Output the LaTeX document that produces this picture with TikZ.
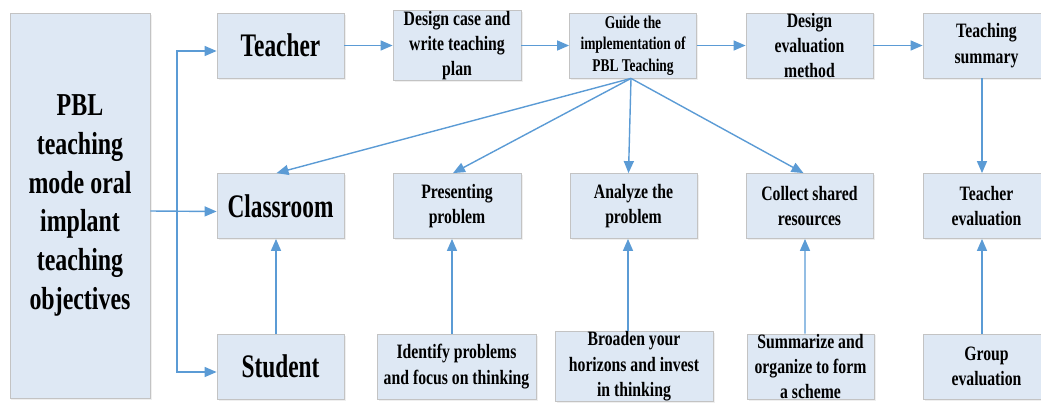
\documentclass[tikz,border=0pt]{standalone}
\usepackage{fontspec}
\setmainfont{Liberation Serif}[FakeStretch=0.77]
\newfontfamily\fleft{Liberation Serif}[FakeStretch=0.75]
\newfontfamily\fbig{Liberation Serif}[FakeStretch=0.71]
\usetikzlibrary{arrows.meta,shadows}
\definecolor{boxfill}{HTML}{DEE8F4}
\definecolor{boxdraw}{HTML}{C3C3C3}
\definecolor{arr}{HTML}{5B9BD5}
\tikzset{
 box/.style={draw=boxdraw, line width=0.8bp, fill=boxfill, align=center, inner sep=0pt,
   drop shadow={shadow xshift=1.5bp, shadow yshift=-1.5bp, fill=black!12}},
 std/.style={box, minimum width=127bp, minimum height=65bp},
 big/.style={font=\fbig\bfseries\fontsize{33}{39}\selectfont},
 mid/.style={font=\bfseries\fontsize{20.5}{25.5}\selectfont},
 sm/.style={font=\fleft\bfseries\fontsize{18}{21.5}\selectfont},
 arrow/.style={draw=arr, line width=1.4bp, -{Triangle[length=12bp,width=10bp]}},
}
\begin{document}
\begin{tikzpicture}[x=1bp,y=-1bp]
\useasboundingbox (0,0) rectangle (1041,403);
\clip (0,0) rectangle (1041,403);
% left box
\node[box, minimum width=140bp, minimum height=385bp, font=\fleft\bfseries\fontsize{32}{39}\selectfont] (L) at (80,205.5)
  {PBL\\teaching\\mode oral\\implant\\teaching\\objectives};
% column 1
\node[std, big] (teacher) at (280.5,45.5) {Teacher};
\node[std, big] (classroom) at (280.5,206) {Classroom};
\node[std, big] (student) at (280.5,366.5) {Student};
% top row
\node[std, mid, minimum width=128bp] (design) at (457,45.5) {Design case and\\write teaching\\plan};
\node[std, sm] (guide) at (633,45.5) {Guide the\\implementation of\\PBL Teaching};
\node[std, mid] (evalm) at (809.5,45.5) {Design\\evaluation\\method};
\node[std, mid] (summary) at (986.5,45.5) {Teaching\\summary};
% middle row
\node[std, mid, minimum width=128bp] (present) at (457,206) {Presenting\\problem};
\node[std, mid] (analyze) at (633.5,206) {Analyze the\\problem};
\node[std, mid] (collect) at (809.5,206) {Collect shared\\resources};
\node[std, mid] (teval) at (986.5,206) {Teacher\\evaluation};
% bottom row
\node[std, mid, minimum width=159bp] (identify) at (456.5,366.5) {Identify problems\\and focus on thinking};
\node[std, mid, minimum width=158bp] (broaden) at (634,366.5) {Broaden your\\horizons and invest\\in thinking};
\node[std, mid] (summar) at (810.5,366.5) {Summarize and\\organize to form\\a scheme};
\node[std, mid] (group) at (986.5,366.5) {Group\\evaluation};
% branch from left box
\coordinate (bx) at (177,211.5);
\draw[arrow] ([yshift=-5.5bp]L.east) -- ([yshift=-5.5bp]classroom.west);
\draw[arrow] (bx) |- ([yshift=-5.5bp]teacher.west);
\draw[arrow] (bx) |- ([yshift=-5.5bp]student.west);
% top row chain
\draw[arrow] (teacher) -- (design);
\draw[arrow] (design) -- (guide);
\draw[arrow] (guide) -- (evalm);
\draw[arrow] (evalm) -- (summary);
% fan from guide
\coordinate (g) at ([xshift=-2bp]guide.south);
\draw[arrow] (g) -- ([xshift=-4bp]classroom.north);
\draw[arrow] (g) -- ([xshift=-4bp]present.north);
\draw[arrow] (g) -- ([xshift=-5bp]analyze.north);
\draw[arrow] (g) -- ([xshift=-6bp]collect.north);
\draw[arrow] ([xshift=-4.5bp]summary.south) -- ([xshift=-4.5bp]teval.north);
% bottom-up arrows
\draw[arrow] ([xshift=-4.5bp]student.north) -- ([xshift=-4.5bp]classroom.south);
\draw[arrow] ([xshift=-4.5bp]identify.north) -- ([xshift=-5bp]present.south);
\draw[arrow] ([xshift=-6bp]broaden.north) -- ([xshift=-5.5bp]analyze.south);
\draw[arrow] ([xshift=-5.5bp]summar.north) -- ([xshift=-4.5bp]collect.south);
\draw[arrow] ([xshift=-4.5bp]group.north) -- ([xshift=-4.5bp]teval.south);
\end{tikzpicture}
\end{document}
